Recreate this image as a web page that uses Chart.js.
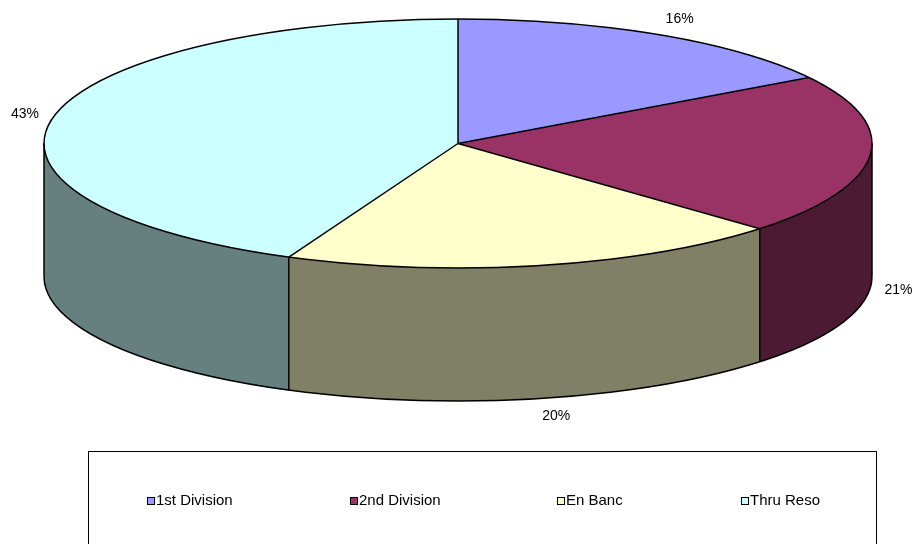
<!DOCTYPE html>
<html>
<head>
<meta charset="utf-8">
<script src="https://cdn.jsdelivr.net/npm/chart.js@4.4.0/dist/chart.umd.min.js"></script>
<style>
  html, body { margin: 0; padding: 0; background: #fff; }
  canvas { display: block; }
</style>
</head>
<body>
<canvas id="chart" width="914" height="544"></canvas>
<script>
// data (labels show the rounded share)
const categories = ["1st Division", "2nd Division", "En Banc", "Thru Reso"];
const shares = [16.1, 20.9, 19.7, 43.3];
const topColors = ["#9999FF", "#993366", "#FFFFCC", "#CCFFFF"];
const sideColors = ["#4D4D80", "#4D1A33", "#808066", "#668080"];

// fake 3d: top face is the pie squashed into an ellipse, walls hang below it
const CX = 458, CY = 143.5, RX = 414, RY = 124.5, DEPTH = 133;
const LABEL_FONT = "14px 'Liberation Sans', Arial, sans-serif";
const LEGEND_FONT = "15px 'Liberation Sans', Arial, sans-serif";
const legendX = [147, 350, 557, 741];

const total = shares.reduce((a, b) => a + b, 0);

function pt(a, dy) {
  return [CX + RX * Math.cos(a), CY + (dy || 0) + RY * Math.sin(a)];
}

// only the front half (0..PI, canvas y points down) shows a wall
function frontPart(s, e) {
  const a0 = Math.max(s, 0), a1 = Math.min(e, Math.PI);
  return a1 > a0 ? [a0, a1] : null;
}

function line(ctx, x1, y1, x2, y2) {
  ctx.beginPath();
  ctx.moveTo(x1, y1);
  ctx.lineTo(x2, y2);
  ctx.stroke();
}

const pie3d = {
  id: "pie3d",
  beforeDatasetsDraw(chart) {
    const ctx = chart.ctx;
    const arcs = chart.getDatasetMeta(0).data;
    arcs.forEach((arc, i) => {
      const r = frontPart(arc.startAngle, arc.endAngle);
      if (!r) return;
      ctx.beginPath();
      ctx.ellipse(CX, CY, RX, RY, 0, r[0], r[1]);
      ctx.ellipse(CX, CY + DEPTH, RX, RY, 0, r[1], r[0], true);
      ctx.closePath();
      ctx.fillStyle = sideColors[i];
      ctx.fill();
    });
    // let the library paint the slices, squashed onto the ellipse
    const a = arcs[0];
    ctx.save();
    ctx.translate(CX, CY);
    ctx.scale(RX / a.outerRadius, RY / a.outerRadius);
    ctx.translate(-a.x, -a.y);
  },
  afterDatasetsDraw(chart) {
    const ctx = chart.ctx;
    ctx.restore();
    const arcs = chart.getDatasetMeta(0).data;

    ctx.save();
    ctx.strokeStyle = "#000";
    ctx.lineWidth = 1.5;
    ctx.beginPath();
    ctx.ellipse(CX, CY, RX, RY, 0, 0, 2 * Math.PI);
    ctx.stroke();
    ctx.beginPath();
    ctx.ellipse(CX, CY + DEPTH, RX, RY, 0, 0, Math.PI);
    ctx.stroke();

    const edges = [0, Math.PI];
    arcs.forEach(arc => {
      if (arc.startAngle > 0 && arc.startAngle < Math.PI) edges.push(arc.startAngle);
    });
    edges.forEach(a => {
      const [x, y] = pt(a);
      line(ctx, x, y, x, y + DEPTH);
    });
    arcs.forEach(arc => {
      const [x, y] = pt(arc.startAngle);
      line(ctx, CX, CY, x, y);
    });

    // percent labels just outside each slice
    ctx.fillStyle = "#000";
    ctx.font = LABEL_FONT;
    ctx.textAlign = "center";
    ctx.textBaseline = "middle";
    arcs.forEach((arc, i) => {
      const m = (arc.startAngle + arc.endAngle) / 2;
      const c = Math.cos(m), s = Math.sin(m);
      let [x, y] = pt(m, s > 0 ? DEPTH : 0);
      x += Math.sign(c) * (14 + 14.5 * Math.abs(c));
      y += 17.5 * s;
      ctx.fillText(Math.round(shares[i] / total * 100) + "%", x, y);
    });
    ctx.restore();
  },
  afterDraw(chart) {
    const ctx = chart.ctx;
    ctx.save();
    ctx.strokeStyle = "#000";
    ctx.lineWidth = 1;
    ctx.strokeRect(88.5, 451.5, 788, 120);
    ctx.font = LEGEND_FONT;
    ctx.textBaseline = "middle";
    ctx.textAlign = "left";
    categories.forEach((name, i) => {
      const x = legendX[i];
      ctx.fillStyle = topColors[i];
      ctx.fillRect(x + 0.5, 497.5, 7, 7);
      ctx.strokeRect(x + 0.5, 497.5, 7, 7);
      ctx.fillStyle = "#000";
      ctx.fillText(name, x + 9, 501);
    });
    ctx.restore();
  }
};

new Chart(document.getElementById("chart"), {
  type: "pie",
  data: {
    labels: categories,
    datasets: [{ data: shares, backgroundColor: topColors, borderWidth: 0, clip: false }]
  },
  options: {
    responsive: false,
    animation: false,
    events: [],
    plugins: { legend: { display: false }, tooltip: { enabled: false } }
  },
  plugins: [pie3d]
});
</script>
</body>
</html>
